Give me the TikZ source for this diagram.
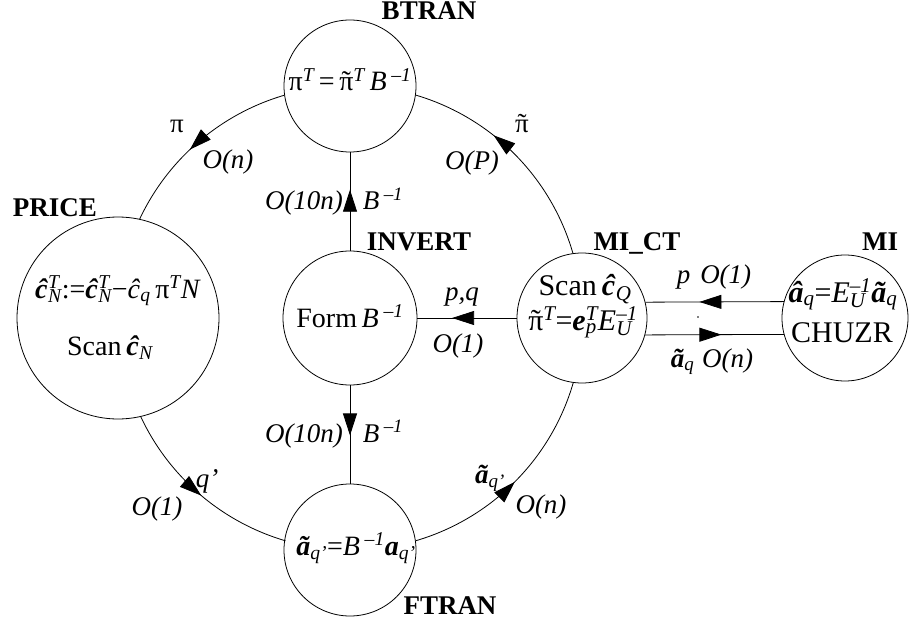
\documentclass[tikz,border=0pt]{standalone}
\usepackage{fontspec}
\setmainfont{Liberation Serif}
\usetikzlibrary{arrows.meta,decorations.markings}
\newcommand\Xsup[1]{\textsuperscript{\itshape #1}}
\newcommand\Xsub[1]{\textsubscript{\itshape #1}}
\newcommand\Xss[2]{{\setbox0\hbox{\Xsup{#1}}\setbox2\hbox{\Xsub{#2}}\ifdim\wd0>\wd2 \rlap{\box2}\box0 \else\rlap{\box0}\box2 \fi}}
\newcommand\Xbi[1]{\textbf{\textit{#1}}}
\newcommand\Xtil[1]{{\setbox0\hbox{#1}\setbox2\hbox{\upshape ˜}\rlap{\hbox to\wd0{\hss\box2\hss}}\box0}}
\begin{document}
\begin{tikzpicture}[x=1pt,y=-1pt,
  conn/.style={line width=0.8pt},
  mid/.style={postaction={decorate},decoration={markings,mark=at position #1 with {\arrow{Triangle[length=22pt,width=14pt]}}}},
  circ/.style={circle,draw,line width=0.8pt,minimum size=#1,inner sep=0pt},
  tx/.style={anchor=base,inner sep=0pt,font=\fontsize{28}{32}\selectfont},
  txb/.style={anchor=base,inner sep=0pt,font=\fontsize{30}{34}\selectfont},
  lab/.style={anchor=base,inner sep=0pt,font=\fontsize{27}{30}\selectfont\itshape},
  hd/.style={anchor=base,inner sep=0pt,font=\fontsize{27}{30}\selectfont\bfseries}]
\useasboundingbox (0,0) rectangle (911,623);
% circles
\node[circ=132pt] (btran) at (350,86) {};
\node[circ=202pt] (price) at (118,318) {};
\node[circ=134pt] (invert) at (350,318) {};
\node[circ=132pt] (ftran) at (350,550) {};
\node[circ=130pt] (mict) at (582,318) {};
\node[circ=126pt] (mi) at (845,318) {};
% headings
\node[hd] (btranlab) at (429,20) {BTRAN};
\node[hd] (pricelab) at (55,217) {PRICE};
\node[hd] (invertlab) at (419,250) {INVERT};
\node[hd] (mictlab) at (637,250) {MI\_CT};
\node[hd] (milab) at (880,250) {MI};
\node[hd] (ftranlab) at (450,614) {FTRAN};
% formulas
\node[tx] (btranf) at (350,91) {π\Xsup{T}\,=\,\Xtil{π}\Xsup{T}\,\textit{B}\,\Xsup{–1}};
\node[tx] (pricef1) at (118,298) {\Xbi{ĉ}\Xss{T}{N}:=\Xbi{ĉ}\Xss{T}{N}−\textit{ĉ}\Xsub{q}\,π\Xsup{T}\textit{N}};
\node[tx] (pricef2) at (110,355) {Scan\,\Xbi{ĉ}\Xsub{N}};
\node[tx] (invertf) at (350,327) {Form\,\textit{B}\,\Xsup{–1}};
\node[txb] (mictf1) at (585,295) {Scan\,\Xbi{ĉ}\Xsub{Q}};
\node[txb] (mictf2) at (583,330) {\Xtil{π}\Xsup{T}=\Xbi{e}\Xss{T}{p}\textit{E}\Xss{–1}{U}};
\node[txb] (mif1) at (843,302) {\Xbi{â}\Xsub{q}=\textit{E}\Xss{–1}{U}\Xbi{ã}\Xsub{q}};
\node[txb] (mif2) at (842,342) {CHUZR};
\node[tx] (ftranf) at (356,555) {\Xbi{ã}\Xsub{q’}=\textit{B}\,\Xsup{–1}\Xbi{a}\Xsub{q’}};
% edge labels
\node[lab] (l1) at (304,210) {O(10n)};
\node[lab] (l2) at (383,210) {B\,\Xsup{–1}};
\node[lab] (l3) at (304,442) {O(10n)};
\node[lab] (l4) at (383,442) {B\,\Xsup{–1}};
\node[lab] (l5) at (462,300) {p,q};
\node[lab] (l6) at (458,352) {O(1)};
\node[lab] (l7) at (714,283) {p\hspace{10pt}O(1)};
\node[lab] (l8) at (712,367) {\Xbi{ã}\Xsub{q}\hspace{8pt}O(n)};
\node[lab] (l9) at (177,133) {\upshape π};
\node[lab] (l10) at (228,168) {O(n)};
\node[lab] (l11) at (522,133) {\upshape\Xtil{π}};
\node[lab] (l12) at (472,170) {O(P)};
\node[lab] (l13) at (207,487) {q’};
\node[lab] (l14) at (157,515) {O(1)};
\node[lab] (l15) at (490,483) {\Xbi{ã}\Xsub{q’}};
\node[lab] (l16) at (541,513) {O(n)};
\fill (698,317) circle[radius=0.8];
% ring arcs
\draw[conn,mid=0.56] (btran.188) arc[start angle=-106.36,end angle=-154.85,radius=232];
\draw[conn,mid=0.51] (price.283) arc[start angle=-205.15,end angle=-253.64,radius=232];
\draw[conn,mid=0.50] (ftran.8) arc[start angle=-286.36,end angle=-343.9,radius=232];
\draw[conn,mid=0.62] (mict.98) arc[start angle=-16.1,end angle=-73.64,radius=232];
% straight connectors
\draw[conn,mid=0.62] (invert) -- (btran);
\draw[conn,mid=0.51] (invert) -- (ftran);
\draw[conn,mid=0.65] (mict) -- (invert);
\draw[conn,mid=0.61] (mi.165) -- (mict.14.5);
\draw[conn,mid=0.55] (mict.345.5) -- (mi.195);
\end{tikzpicture}
\end{document}
